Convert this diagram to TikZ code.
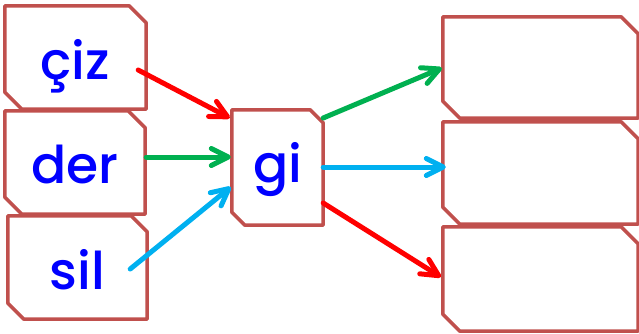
\documentclass[tikz,border=0pt]{standalone}
\usepackage{fontspec}
\setmainfont{Poppins}[UprightFont=* Medium]
\usetikzlibrary{arrows.meta}
\definecolor{boxred}{HTML}{C0504D}
\definecolor{txtblue}{HTML}{0000FF}
\definecolor{arrred}{HTML}{FF0000}
\definecolor{arrgreen}{HTML}{00B050}
\definecolor{arrcyan}{HTML}{00B0F0}
\tikzset{
  boxtext/.style={inner sep=0pt, text=txtblue, font=\fontsize{52}{60}\selectfont, text depth=0pt},
  boxline/.style={draw=boxred, line width=3.5pt, line join=round},
  conn/.style={line width=5pt, line cap=round, -{Straight Barb[round,length=17pt,width=17pt]}},
}
\newcommand\chambox[2]{% name, chamfer
  \draw[boxline] (#1.north west) -- ([xshift=-#2pt]#1.north east) -- ([yshift=-#2pt]#1.north east)
    -- (#1.south east) -- ([xshift=#2pt]#1.south west) -- ([yshift=#2pt]#1.south west) -- cycle;}
\begin{document}
\begin{tikzpicture}[x=1pt,y=-1pt]
\useasboundingbox (0,0) rectangle (639,333);
\node[boxtext, minimum width=141pt, minimum height=103pt, text height=43pt] (A) at (75.5,57.5) {çiz};
\node[boxtext, minimum width=140pt, minimum height=103pt, text height=41pt] (B) at (75,162.5) {der};
\node[boxtext, minimum width=139pt, minimum height=103pt, text height=43pt] (C) at (77.5,267.5) {sil};
\node[boxtext, minimum width=91pt, minimum height=115pt, text height=29pt] (G) at (277.5,167.5) {gi};
\node[boxtext, minimum width=195pt, minimum height=101pt] (R1) at (540.5,67.5) {};
\node[boxtext, minimum width=195pt, minimum height=102pt] (R2) at (540.5,173) {};
\node[boxtext, minimum width=195pt, minimum height=104pt] (R3) at (540.5,279) {};
\chambox{A}{17}
\chambox{B}{17}
\chambox{C}{16}
\chambox{G}{13}
\chambox{R1}{17}
\chambox{R2}{17}
\chambox{R3}{17}
\draw[conn, arrred] ([shift={(-8,12.5)}]A.east) -- ([shift={(-2,-49.5)}]G.west);
\draw[conn, arrgreen] ([shift={(1,-5.5)}]B.east) -- ([shift={(-1,-10.5)}]G.west);
\draw[conn, arrcyan] ([shift={(-17,1.5)}]C.east) -- ([shift={(-1,19.5)}]G.west);
\draw[conn, arrgreen] ([shift={(0,-49.5)}]G.east) -- ([shift={(-1,0.5)}]R1.west);
\draw[conn, arrcyan] ([shift={(0,-0.5)}]G.east) -- ([shift={(3,-6)}]R2.west);
\draw[conn, arrred] ([shift={(0,35.5)}]G.east) -- ([shift={(-2,-2)}]R3.west);
\end{tikzpicture}
\end{document}
